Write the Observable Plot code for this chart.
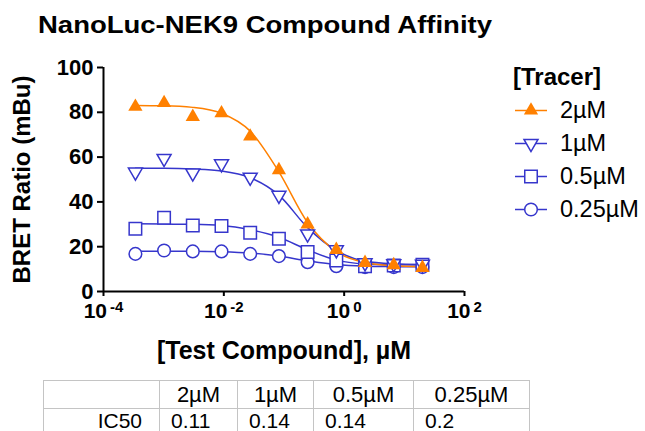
<!DOCTYPE html>
<html>
<head>
<meta charset="utf-8">
<script src="https://cdn.jsdelivr.net/npm/d3@7"></script>
<script src="https://cdn.jsdelivr.net/npm/@observablehq/plot@0.6"></script>
<style>
  body { margin: 0; overflow: hidden; background: white; }
  #wrap { position: relative; width: 645px; height: 431px; overflow: hidden; background: white; font-family: "Liberation Sans", Arial, sans-serif; }
  #chart { position: absolute; left: 0; top: 0; }
  #title { position: absolute; left: 0; top: 0; }
  g[aria-label="y-axis tick label"], g[aria-label="x-axis tick label"] { font-weight: bold; }
  g[aria-label="y-axis label"], g[aria-label="y-axis label"] text { font-size: 24px; font-weight: bold; }
  g[aria-label="x-axis label"], g[aria-label="x-axis label"] text { font-size: 25px; font-weight: bold; }
  #legend-title { position: absolute; left: 513px; top: 65px; font: bold 24px/24px "Liberation Sans", Arial, sans-serif; }
  .leg { position: absolute; left: 513px; height: 33px; line-height: 33px; font-size: 23.5px; white-space: nowrap; }
  .leg svg { display: inline-block; vertical-align: top; }
  .leg span { margin-left: 11px; }
  table { position: absolute; left: 43px; top: 380px; border-collapse: collapse; table-layout: fixed; width: 486px; font-size: 22px; border: 1.5px solid #777; }
  td { border: 1px solid #c4c4c4; padding: 0; white-space: nowrap; }
  tr.r1 td { height: 27px; line-height: 27px; }
  tr.r2 td { height: 23px; line-height: 23px; font-size: 21px; }
  td.h { text-align: center; }
  td.v { text-align: left; padding-left: 11px; }
  td.rl { text-align: right; padding-right: 17px; }
</style>
</head>
<body>
<div id="wrap"></div>
<script>
// ---------- data ----------
const chartTitle = "NanoLuc-NEK9 Compound Affinity";
const tracerLabels = ["2µM", "1µM", "0.5µM", "0.25µM"];
const conc = [0.000339, 0.001016, 0.003048, 0.009145, 0.02743, 0.0823, 0.2469, 0.7407, 2.222, 6.667, 20];
const bret2   = [82.5, 84.2, 78.0, 79.6, 69.2, 54.2, 30.0, 18.6, 12.8, 11.8, 10.6];
const bret1   = [53.3, 59.4, 52.9, 57.0, 51.0, 42.9, 25.7, 18.6, 12.8, 12.4, 12.1];
const bret05  = [28.0, 32.9, 29.5, 29.2, 26.2, 23.5, 17.6, 13.8, 11.3, 11.6, 11.9];
const bret025 = [16.8, 18.3, 17.9, 17.9, 16.8, 15.8, 13.1, 11.3, 10.9, 10.9, 10.9];
const fit2    = [83.0, 82.9, 82.2, 79.6, 71.6, 53.4, 30.8, 17.8, 12.9, 11.5, 11.1];
const fit1    = [55.0, 55.0, 54.7, 53.8, 50.8, 43.0, 28.5, 18.3, 13.5, 12.4, 12.1];
const fit05   = [30.2, 30.1, 30.0, 29.5, 27.6, 24.2, 18.6, 14.0, 12.3, 11.9, 11.8];
const fit025  = [18.0, 18.0, 18.0, 17.8, 17.2, 15.8, 13.7, 12.0, 11.3, 11.1, 11.0];
const ic50 = [0.11, 0.14, 0.14, 0.2];
const yTicks = [0, 20, 40, 60, 80, 100];
const xTicks = [1e-4, 1e-2, 1, 1e2];
const yLabel = "BRET Ratio (mBu)";
const xLabel = "[Test Compound], µM";
const legendTitle = "[Tracer]";
const rowLabel = "IC50";

// ---------- styles ----------
const ORANGE = "#ff8000", BLUE = "#3636cc";
const styles = [
  {symbol: "triangle", d3sym: d3.symbolTriangle, r: 5.3, fill: ORANGE, stroke: "none", sw: 0, rotate: 0, line: ORANGE},
  {symbol: "triangle", d3sym: d3.symbolTriangle, r: 5.2, fill: "white", stroke: BLUE, sw: 1.5, rotate: 180, line: BLUE},
  {symbol: "square", d3sym: d3.symbolSquare, r: 7.05, fill: "white", stroke: BLUE, sw: 1.5, rotate: 0, line: BLUE},
  {symbol: "circle", d3sym: d3.symbolCircle, r: 6.3, fill: "white", stroke: BLUE, sw: 1.5, rotate: 0, line: BLUE}
];
const bretSeries = [bret2, bret1, bret05, bret025];
const fitSeries = [fit2, fit1, fit05, fit025];

const rows = tracerLabels.map((t, i) => conc.map((c, j) => ({tracer: t, conc: c, bret: bretSeries[i][j], fit: fitSeries[i][j]})));

// draw order: lowest series first, orange last (on top)
const order = [3, 2, 1, 0];
const seriesMarks = [];
for (const i of order) {
  const s = styles[i];
  seriesMarks.push(Plot.line(rows[i], {x: "conc", y: "fit", stroke: s.line, strokeWidth: 1.5, curve: "monotone-x"}));
}
for (const i of order) {
  const s = styles[i];
  seriesMarks.push(Plot.dot(rows[i], {x: "conc", y: "bret", symbol: s.symbol, r: s.r, fill: s.fill, stroke: s.stroke, strokeWidth: s.sw, rotate: s.rotate}));
}

const chart = Plot.plot({
  width: 645,
  height: 370,
  marginLeft: 103,
  marginRight: 181,
  marginTop: 67,
  marginBottom: 79,
  style: {fontFamily: "'Liberation Sans', Arial, sans-serif", background: "transparent", color: "black", overflow: "visible"},
  x: {type: "log", domain: [1e-4, 1e2]},
  y: {domain: [0, 100]},
  marks: [
    Plot.axisY({ticks: yTicks, tickSize: 6, tickPadding: 4, strokeWidth: 2, fontSize: 22, fontWeight: "bold",
      label: yLabel, labelAnchor: "center", labelArrow: "none", labelOffset: 91}),
    Plot.axisX({ticks: xTicks, tickSize: 5, tickPadding: 7, strokeWidth: 2, fontSize: 21, fontWeight: "bold",
      tickFormat: d => "10^" + Math.round(Math.log10(d)),
      label: xLabel, labelAnchor: "center", labelArrow: "none", labelOffset: 67}),
    Plot.ruleX([xTicks[0]], {y1: yTicks[0], y2: yTicks[yTicks.length - 1], strokeWidth: 2}),
    Plot.ruleY([yTicks[0]], {x1: xTicks[0], x2: xTicks[xTicks.length - 1], strokeWidth: 2}),
    ...seriesMarks
  ]
});
chart.id = "chart";
const wrap = document.getElementById("wrap");
wrap.appendChild(chart);

// superscript exponents on x tick labels
chart.querySelectorAll('g[aria-label="x-axis tick label"] text').forEach(t => {
  const s = t.textContent;
  const m = s.split("^");
  if (m.length === 2) {
    t.textContent = m[0];
    const ts = document.createElementNS("http://www.w3.org/2000/svg", "tspan");
    ts.setAttribute("dy", "-0.45em");
    ts.setAttribute("dx", "3");
    ts.setAttribute("font-size", "15");
    ts.textContent = m[1];
    t.appendChild(ts);
  }
});

// title
const ns = "http://www.w3.org/2000/svg";
const tsvg = document.createElementNS(ns, "svg");
tsvg.setAttribute("id", "title");
tsvg.setAttribute("width", 645);
tsvg.setAttribute("height", 50);
const tt = document.createElementNS(ns, "text");
tt.setAttribute("x", 38);
tt.setAttribute("y", 33);
tt.setAttribute("font-family", "'Liberation Sans', Arial, sans-serif");
tt.setAttribute("font-weight", "bold");
tt.setAttribute("font-size", 23);
tt.setAttribute("textLength", 454);
tt.setAttribute("lengthAdjust", "spacingAndGlyphs");
tt.textContent = chartTitle;
tsvg.appendChild(tt);
wrap.appendChild(tsvg);

// legend
const lt = document.createElement("div");
lt.id = "legend-title";
lt.textContent = legendTitle;
wrap.appendChild(lt);
tracerLabels.forEach((label, i) => {
  const s = styles[i];
  const row = document.createElement("div");
  row.className = "leg";
  row.style.top = (94 + i * 33) + "px";
  const sv = d3.create("svg").attr("width", 36).attr("height", 33);
  sv.append("line").attr("x1", 2).attr("x2", 34).attr("y1", 16.5).attr("y2", 16.5).attr("stroke", s.line).attr("stroke-width", 1.5);
  sv.append("path")
    .attr("d", d3.symbol(s.d3sym, s.r * s.r * Math.PI)())
    .attr("transform", `translate(18,16.5) rotate(${s.rotate})`)
    .attr("fill", s.fill).attr("stroke", s.stroke).attr("stroke-width", s.sw);
  row.appendChild(sv.node());
  const sp = document.createElement("span");
  sp.textContent = label;
  row.appendChild(sp);
  wrap.appendChild(row);
});

// table
const table = document.createElement("table");
const cg = document.createElement("colgroup");
[116, 78, 76, 100, 116].forEach(w => { const c = document.createElement("col"); c.style.width = w + "px"; cg.appendChild(c); });
table.appendChild(cg);
const tr1 = document.createElement("tr");
tr1.className = "r1";
tr1.appendChild(document.createElement("td"));
tracerLabels.forEach(l => { const td = document.createElement("td"); td.className = "h"; td.textContent = l; tr1.appendChild(td); });
const tr2 = document.createElement("tr");
tr2.className = "r2";
const rl = document.createElement("td"); rl.className = "rl"; rl.textContent = rowLabel; tr2.appendChild(rl);
ic50.forEach(v => { const td = document.createElement("td"); td.className = "v"; td.textContent = String(v); tr2.appendChild(td); });
table.appendChild(tr1);
table.appendChild(tr2);
wrap.appendChild(table);
</script>
</body>
</html>
